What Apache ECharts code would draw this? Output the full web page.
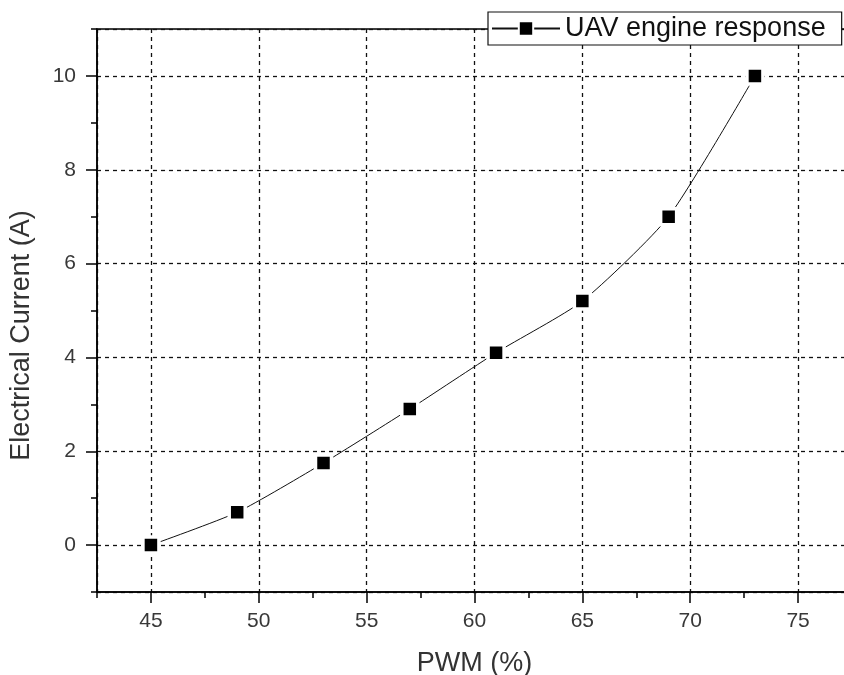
<!DOCTYPE html>
<html>
<head>
<meta charset="utf-8">
<script src="https://cdn.jsdelivr.net/npm/echarts@6/dist/echarts.min.js"></script>
<style>
  html, body { margin: 0; padding: 0; background: #fff; }
  #main { width: 844px; height: 675px; }
</style>
</head>
<body>
<div id="main"></div>
<script>
var pwm = [45, 49, 53, 57, 61, 65, 69, 73];
var current = [0, 0.7, 1.75, 2.9, 4.1, 5.2, 7.0, 10.0];
var seriesName = 'UAV engine response';

var chart = echarts.init(document.getElementById('main'));
var font = 'Liberation Sans, Arial, sans-serif';

var points = [];
for (var i = 0; i < pwm.length; i++) {
    points.push([pwm[i], current[i]]);
}

// the original plot runs a little past the right edge of the picture
var xMin = 42.5, xMax = 77.5;

var gridLine = { show: true, lineStyle: { color: '#111', width: 1.3, type: [4, 4] } };

var option = {
    animation: false,
    backgroundColor: '#fff',
    grid: {
        left: 97, top: 29, right: -8, bottom: 83,
        containLabel: false,
        outerBoundsMode: 'none',
        show: true, borderColor: '#000', borderWidth: 1.5
    },
    legend: {
        left: 488, top: 12,
        padding: [3, 16, 3, 3],
        backgroundColor: '#fff',
        borderColor: '#111', borderWidth: 1.2,
        itemWidth: 68, itemHeight: 18, itemGap: 8,
        textStyle: { fontFamily: font, fontSize: 27, color: '#111' },
        data: [seriesName]
    },
    xAxis: [{
        type: 'value', min: xMin, max: xMax, splitNumber: 7,
        name: 'PWM (%)', nameLocation: 'middle', nameGap: 58,
        nameTextStyle: { fontFamily: font, fontSize: 27, color: '#333' },
        axisLine: { show: true, onZero: false, lineStyle: { color: '#000', width: 1.5 } },
        axisTick: { show: true, inside: false, length: 11, lineStyle: { color: '#000', width: 1.5 } },
        axisLabel: { margin: 19, fontFamily: font, fontSize: 21, color: '#383838', showMinLabel: false, showMaxLabel: false },
        splitLine: gridLine
    }, {
        type: 'value', min: xMin, max: xMax, interval: 2.5, position: 'bottom',
        axisLine: { show: false, onZero: false },
        axisTick: { show: true, inside: false, length: 6, lineStyle: { color: '#000', width: 1.5 } },
        axisLabel: { show: false },
        splitLine: { show: false }
    }],
    yAxis: [{
        type: 'value', min: -1, max: 11, splitNumber: 6,
        name: 'Electrical Current (A)', nameLocation: 'middle', nameGap: 62,
        nameTextStyle: { fontFamily: font, fontSize: 27, color: '#333', padding: [0, 50, 0, 0] },
        axisLine: { show: true, onZero: false, lineStyle: { color: '#000', width: 1.5 } },
        axisTick: { show: true, inside: false, length: 11, lineStyle: { color: '#000', width: 1.5 } },
        axisLabel: { margin: 21, fontFamily: font, fontSize: 21, color: '#383838', showMinLabel: false, showMaxLabel: false },
        splitLine: gridLine
    }, {
        type: 'value', min: -1, max: 11, interval: 1, position: 'left',
        axisLine: { show: false, onZero: false },
        axisTick: { show: true, inside: false, length: 6, lineStyle: { color: '#000', width: 1.5 } },
        axisLabel: { show: false },
        splitLine: { show: false }
    }],
    series: [{
        name: seriesName,
        type: 'line',
        xAxisIndex: 0, yAxisIndex: 0,
        smooth: 0.2,
        symbol: 'rect',
        symbolSize: 16,
        lineStyle: { color: '#111', width: 1 },
        itemStyle: { color: '#000', borderColor: '#fff', borderWidth: 3.5 },
        data: points,
        z: 5
    }]
};

chart.setOption(option);
</script>
</body>
</html>
